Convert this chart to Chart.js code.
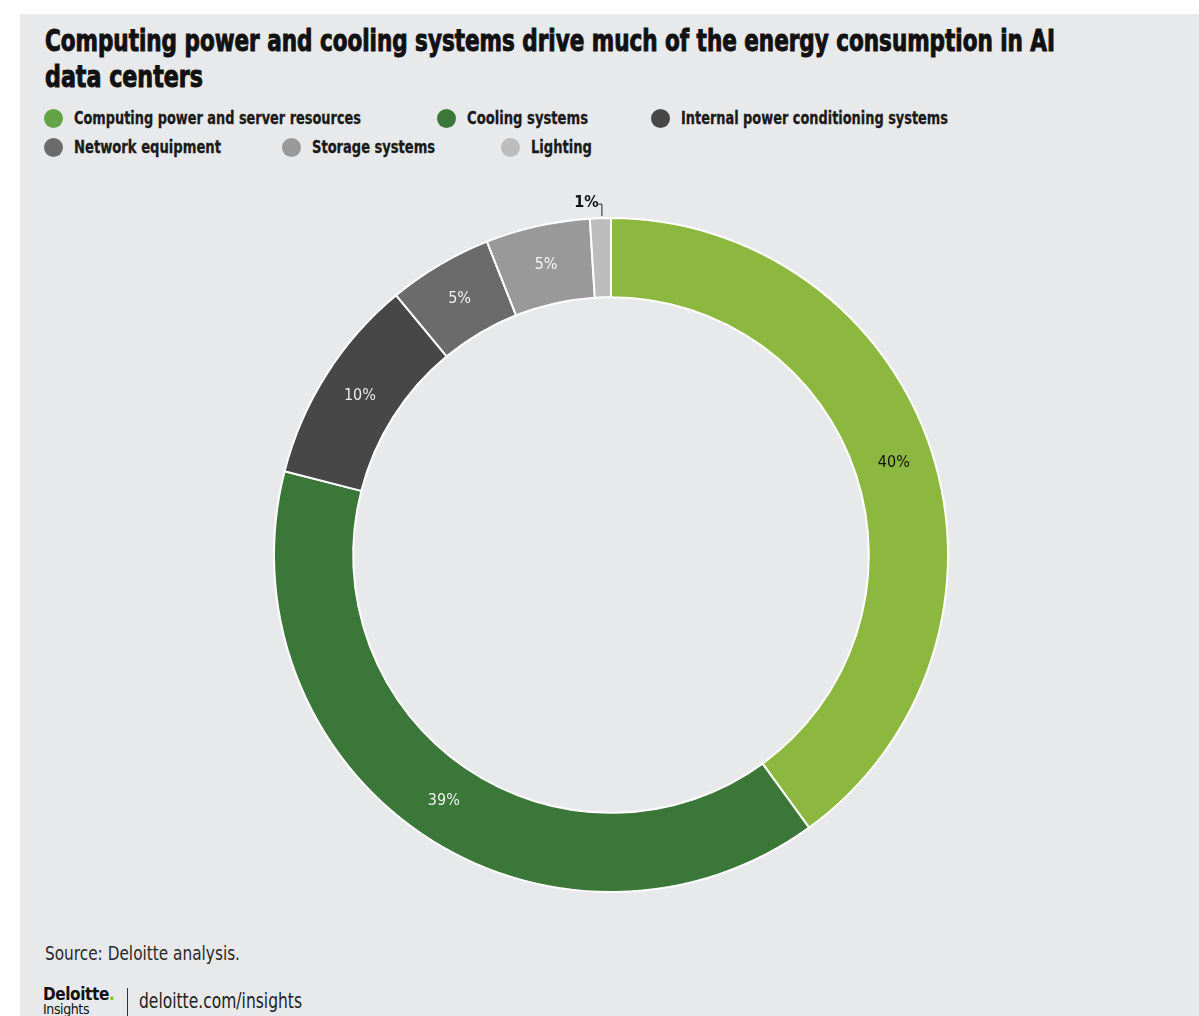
<!DOCTYPE html>
<html>
<head>
<meta charset="utf-8">
<script src="https://cdn.jsdelivr.net/npm/chart.js@4.4.1/dist/chart.umd.min.js"></script>
<style>
  html, body { margin: 0; padding: 0; background: #ffffff; }
  body { width: 1199px; height: 1016px; position: relative; overflow: hidden;
         font-family: 'DejaVu Sans Condensed', 'Liberation Sans Narrow', Roboto, sans-serif; font-stretch: condensed; }
  #panel { position: absolute; left: 20px; top: 14px; right: 0; bottom: 0; background: #e8e9eb; }
  .fit { display: inline-block; white-space: nowrap; transform-origin: 0 0; }
  #title1, #title2 { position: absolute; left: 45px; font-size: 31px; line-height: 36px;
           font-weight: bold; color: #111; -webkit-text-stroke: 1px #111; }
  #title1 { top: 22px; }
  #title2 { top: 58px; }
  .leg { position: absolute; font-size: 18px; font-weight: bold; color: #1a1a1a; line-height: 20px;
         white-space: nowrap; -webkit-text-stroke: 0.3px #1a1a1a; }
  .dot { position: absolute; width: 19px; height: 19px; border-radius: 50%; }
  #chartWrap { position: absolute; left: 0; top: 180px; width: 1199px; height: 750px; }
  #source { position: absolute; left: 45px; top: 941px; font-size: 20px; color: #2a2a2a; }
  #logo { position: absolute; left: 43px; top: 986px; font-family: 'DejaVu Sans', sans-serif; color: #111; }
  #logo .d { font-weight: bold; font-size: 17px; letter-spacing: -0.4px; line-height: 17px; }
  #logo .d span { color: #86bc25; }
  #logo .i { font-size: 14px; line-height: 13px; letter-spacing: -0.4px; }
  #sep { position: absolute; left: 127px; top: 988px; width: 1px; height: 28px; background: #333; }
  #url { position: absolute; left: 139px; top: 989px; font-size: 21px; color: #222; }
</style>
</head>
<body>
<div id="panel"></div>
<div id="title1"><span class="fit" data-w="1010">Computing power and cooling systems drive much of the energy consumption in AI</span></div>
<div id="title2"><span class="fit" data-w="158">data centers</span></div>
<div id="legend"></div>
<div id="chartWrap"><canvas id="donut" width="1199" height="750"></canvas></div>
<div id="source"><span class="fit" data-w="195">Source: Deloitte analysis.</span></div>
<div id="logo"><div class="d">Deloitte<span>.</span></div><div class="i">Insights</div></div>
<div id="sep"></div>
<div id="url"><span class="fit" data-w="163">deloitte.com/insights</span></div>

<script>
// -------- Data --------
const categories = [
  "Computing power and server resources",
  "Cooling systems",
  "Internal power conditioning systems",
  "Network equipment",
  "Storage systems",
  "Lighting"
];
const shares = [40, 39, 10, 5, 5, 1];
const sliceColors = ["#8cb83f", "#3b7739", "#474747", "#6b6b6b", "#999999", "#bcbcbc"];
const legendColors = ["#62a445", "#3b7739", "#474747", "#6b6b6b", "#999999", "#bcbcbc"];
const labelColors = ["#111111", "#f2f2f2", "#e8e8e8", "#f0f0f0", "#f5f5f5", "#111111"];

// legend layout (text left edge, row top, target text width)
const legendSpots = [
  { x: 74, y: 108, w: 287 }, { x: 467, y: 108, w: 121 }, { x: 681, y: 108, w: 267 },
  { x: 74, y: 137, w: 147 }, { x: 312, y: 137, w: 123 }, { x: 531, y: 137, w: 61 }
];

// -------- Legend --------
const legendEl = document.getElementById('legend');
categories.forEach((name, i) => {
  const dot = document.createElement('span');
  dot.className = 'dot';
  dot.style.left = (legendSpots[i].x - 30) + 'px';
  dot.style.top = (legendSpots[i].y + 1) + 'px';
  dot.style.background = legendColors[i];
  legendEl.appendChild(dot);

  const div = document.createElement('div');
  div.className = 'leg';
  div.style.left = legendSpots[i].x + 'px';
  div.style.top = legendSpots[i].y + 'px';
  div.innerHTML = '<span class="fit" data-w="' + legendSpots[i].w + '">' + name + '</span>';
  legendEl.appendChild(div);
});

// squeeze text horizontally to the condensed widths of the original
document.querySelectorAll('.fit').forEach(el => {
  const w = el.getBoundingClientRect().width;
  const target = Number(el.dataset.w);
  if (w > 0) el.style.transform = 'scaleX(' + (target / w) + ')';
});

// -------- Slice labels --------
const sliceLabels = {
  id: 'sliceLabels',
  afterDatasetsDraw(chart) {
    const ctx = chart.ctx;
    const meta = chart.getDatasetMeta(0);
    ctx.save();
    ctx.textAlign = 'center';
    ctx.textBaseline = 'middle';
    meta.data.forEach((arc, i) => {
      const mid = (arc.startAngle + arc.endAngle) / 2;
      const txt = shares[i] + '%';
      if (shares[i] < 3) {
        // small slice: label outside with a bracket leader
        const r = arc.outerRadius;
        const lx = arc.x + Math.cos(mid) * r;
        const ly = arc.y + Math.sin(mid) * r;
        ctx.strokeStyle = '#222';
        ctx.lineWidth = 1;
        ctx.beginPath();
        ctx.moveTo(lx + 1.5, ly - 2);
        ctx.lineTo(lx + 1.5, ly - 14);
        ctx.lineTo(lx - 2, ly - 14);
        ctx.stroke();
        ctx.font = "bold 16px 'DejaVu Sans Condensed', sans-serif";
        ctx.fillStyle = labelColors[i];
        ctx.fillText(txt, lx - 14, ly - 15);
      } else {
        const r = (arc.innerRadius + arc.outerRadius) / 2;
        ctx.font = "16px 'DejaVu Sans Condensed', sans-serif";
        ctx.fillStyle = labelColors[i];
        ctx.fillText(txt, arc.x + Math.cos(mid) * r, arc.y + Math.sin(mid) * r);
      }
    });
    ctx.restore();
  }
};

// -------- Chart --------
new Chart(document.getElementById('donut').getContext('2d'), {
  type: 'doughnut',
  data: {
    labels: categories,
    datasets: [{
      data: shares,
      backgroundColor: sliceColors,
      borderColor: '#ffffff',
      borderWidth: 2,
      hoverOffset: 0
    }]
  },
  options: {
    responsive: false,
    maintainAspectRatio: false,
    animation: false,
    cutout: '76.5%',
    layout: { padding: { left: 23, top: 37, bottom: 37, right: 0 } },
    plugins: {
      legend: { display: false },
      tooltip: { enabled: false },
      title: { display: false }
    }
  },
  plugins: [sliceLabels]
});
</script>
</body>
</html>
